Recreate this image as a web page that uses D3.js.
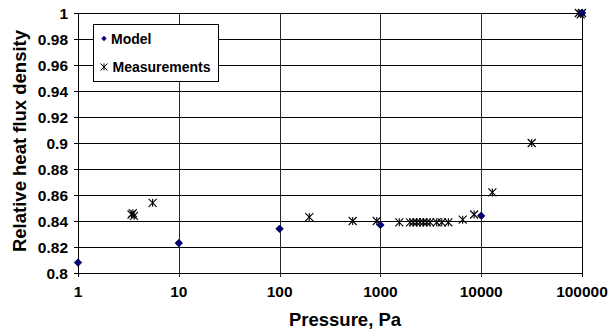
<!DOCTYPE html>
<html>
<head>
<meta charset="utf-8">
<script src="https://cdn.jsdelivr.net/npm/d3@7"></script>
<style>
  body { margin: 0; background: #fff; }
  svg text { font-family: "Liberation Sans", Arial, Helvetica, sans-serif; font-weight: bold; }
</style>
</head>
<body>
<div id="chart"></div>
<script>
'use strict';

// chart data
const modelPressure = [1, 10, 100, 1000, 10000, 100000];
const modelValue = [0.808, 0.823, 0.834, 0.837, 0.844, 1.0];

const measPressure = [3.4, 3.5, 3.6, 5.5, 197, 531, 920, 1540, 1966, 2120, 2290, 2470,
                      2667, 2880, 3105, 3620, 4060, 4720, 6550, 8500, 12900, 31700,
                      93000, 97000, 100000];
const measValue = [0.845, 0.846, 0.844, 0.854, 0.843, 0.840, 0.840, 0.839, 0.839, 0.839,
                   0.839, 0.839, 0.839, 0.839, 0.839, 0.839, 0.839, 0.839, 0.841, 0.845,
                   0.862, 0.900, 1.0, 0.999, 1.0];

const xTicks = [1, 10, 100, 1000, 10000, 100000];
const yTicks = [0.8, 0.82, 0.84, 0.86, 0.88, 0.9, 0.92, 0.94, 0.96, 0.98, 1];

const seriesNames = ["Model", "Measurements"];

{ // start scope

const width = 609, height = 333;
const margin = {left: 78, right: 27, top: 13, bottom: 60};
const boldStyle = "font-family:'Liberation Sans', Arial, sans-serif;font-weight:bold";

const svg = d3.select("#chart").append("svg")
    .attr("width", width)
    .attr("height", height);

const x = d3.scaleLog()
    .domain([1, 100000])
    .range([margin.left, width - margin.right]);

const y = d3.scaleLinear()
    .domain([0.8, 1])
    .range([height - margin.bottom, margin.top]);

// horizontal gridlines
svg.append("g")
    .selectAll("line")
    .data(yTicks)
    .enter()
    .append("line")
    .attr("x1", margin.left - 4)
    .attr("x2", width - margin.right)
    .attr("y1", d => Math.round(y(d)) + 0.5)
    .attr("y2", d => Math.round(y(d)) + 0.5)
    .attr("stroke", "#000")
    .attr("stroke-width", 1);

// vertical gridlines
svg.append("g")
    .selectAll("line")
    .data(xTicks)
    .enter()
    .append("line")
    .attr("x1", d => Math.round(x(d)) + 0.5)
    .attr("x2", d => Math.round(x(d)) + 0.5)
    .attr("y1", margin.top)
    .attr("y2", height - margin.bottom + 4)
    .attr("stroke", (d, i) => (i === 0 || i === xTicks.length - 1) ? "#000" : "#2a2a2a")
    .attr("stroke-width", 1);

// y tick labels
svg.append("g")
    .selectAll("text")
    .data(yTicks)
    .enter()
    .append("text")
    .attr("style", boldStyle)
    .attr("x", margin.left - 10)
    .attr("y", d => y(d) + 5.5)
    .attr("text-anchor", "end")
    .attr("font-size", 15.5)
    .text(d => +d.toFixed(2));

// x tick labels
svg.append("g")
    .selectAll("text")
    .data(xTicks)
    .enter()
    .append("text")
    .attr("style", boldStyle)
    .attr("x", d => x(d))
    .attr("y", 297)
    .attr("text-anchor", "middle")
    .attr("font-size", 15.5)
    .text(d => d);

// axis titles
svg.append("text")
    .attr("style", boldStyle)
    .attr("x", 345)
    .attr("y", 326)
    .attr("text-anchor", "middle")
    .attr("font-size", 18.5)
    .text("Pressure, Pa");

svg.append("text")
    .attr("style", boldStyle)
    .attr("transform", "translate(26,141) rotate(-90)")
    .attr("text-anchor", "middle")
    .attr("font-size", 18.5)
    .text("Relative heat flux density");

// Excel style star marker: X with a vertical bar
const star = (g, size) => {
    let r = size / 2;
    g.append("line").attr("x1", 0).attr("x2", 0).attr("y1", -r).attr("y2", r);
    g.append("line").attr("x1", -r).attr("x2", r).attr("y1", -r).attr("y2", r);
    g.append("line").attr("x1", -r).attr("x2", r).attr("y1", r).attr("y2", -r);
};

// measurement points
const measData = measPressure.map((p, i) => ({p: p, v: measValue[i]}));
svg.append("g")
    .selectAll("g")
    .data(measData)
    .enter()
    .append("g")
    .attr("transform", d => "translate(" + x(d.p) + "," + y(d.v) + ")")
    .attr("stroke", "#000")
    .attr("stroke-width", 1.1)
    .each(function() { star(d3.select(this), 8); });

// model points
const modelData = modelPressure.map((p, i) => ({p: p, v: modelValue[i]}));
svg.append("g")
    .selectAll("path")
    .data(modelData)
    .enter()
    .append("path")
    .attr("d", d3.symbol().type(d3.symbolDiamond2).size(36))
    .attr("transform", d => "translate(" + x(d.p) + "," + y(d.v) + ")")
    .attr("fill", "#000080")
    .attr("stroke", "#000022")
    .attr("stroke-width", 0.8);

// legend
const legend = svg.append("g");
legend.append("rect")
    .attr("x", 93.5)
    .attr("y", 24.5)
    .attr("width", 125)
    .attr("height", 57)
    .attr("fill", "#fff")
    .attr("stroke", "#000")
    .attr("stroke-width", 1);

legend.append("path")
    .attr("d", d3.symbol().type(d3.symbolDiamond2).size(18))
    .attr("transform", "translate(104,38.5)")
    .attr("fill", "#000080");

const legStar = legend.append("g")
    .attr("transform", "translate(104,67)")
    .attr("stroke", "#000")
    .attr("stroke-width", 1);
star(legStar, 7);

legend.selectAll("text")
    .data(seriesNames)
    .enter()
    .append("text")
    .attr("style", boldStyle)
    .attr("x", (d, i) => 111 + i * 1.5)
    .attr("y", (d, i) => 44 + i * 28)
    .attr("font-size", 14)
    .text(d => d);

} // end scope
</script>
</body>
</html>
